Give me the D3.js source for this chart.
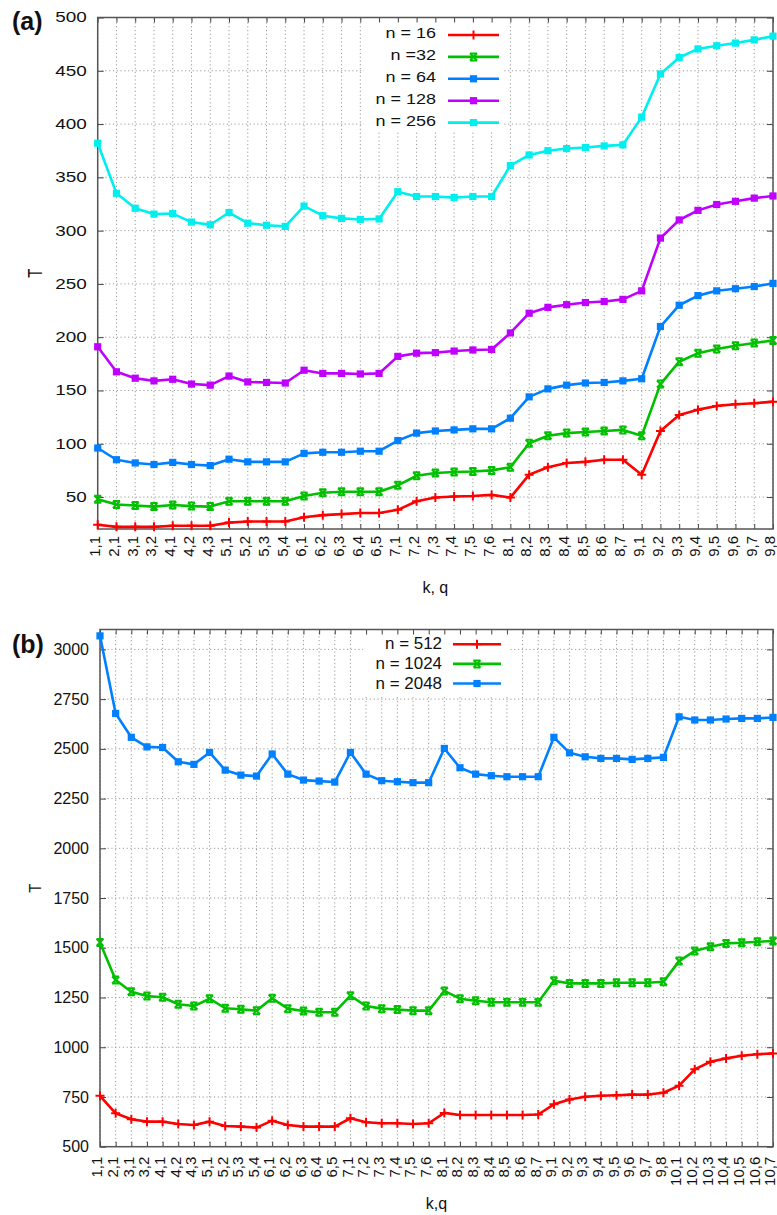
<!DOCTYPE html>
<html><head><meta charset="utf-8">
<script src="https://cdn.jsdelivr.net/npm/d3@7"></script>
<style>
html,body{margin:0;padding:0;background:#fff;}
svg{display:block;font-family:"Liberation Sans",Arial,sans-serif;}
</style></head>
<body><svg id="chart" width="777" height="1215"></svg>
<script>
// ---------- data ----------
const catsA = ["1,1","2,1","3,1","3,2","4,1","4,2","4,3","5,1","5,2","5,3","5,4","6,1","6,2","6,3","6,4","6,5","7,1","7,2","7,3","7,4","7,5","7,6","8,1","8,2","8,3","8,4","8,5","8,6","8,7","9,1","9,2","9,3","9,4","9,5","9,6","9,7","9,8"];
const catsB = ["1,1","2,1","3,1","3,2","4,1","4,2","4,3","5,1","5,2","5,3","5,4","6,1","6,2","6,3","6,4","6,5","7,1","7,2","7,3","7,4","7,5","7,6","8,1","8,2","8,3","8,4","8,5","8,6","8,7","9,1","9,2","9,3","9,4","9,5","9,6","9,7","9,8","10,1","10,2","10,3","10,4","10,5","10,6","10,7"];

const n16  = [24,22,22,22,23,23,23,26,27,27,27,31,33,34,35,35,38,46,49.5,50.5,51,52,49.5,71,78,82,83,85,85,71,112,127,132,135.5,137,138,139.5];
const n32  = [48,43,42,41,42.5,41.5,41,46,46,46,46,51,54,55,55,55,61,70,72.5,73.5,74,75,78,100.5,107.5,110,111,112,113,107.5,156,177,185,189,192,194.5,197];
const n64  = [96,85,82,80.5,82.5,80.5,79.5,85.5,83,83,83,91,92,92,93,93,103,110,112,113,114,114,124,144,151.5,155,157,157.5,159,161,210,230,239,243.5,245.5,247.5,250.5];
const n128 = [191,167.5,161.5,159,160.5,156,155,163.5,158,157.5,157,169,166,166,165.5,166,182,185,185.5,187,188,188.5,204,222.5,228,230.5,232.5,233.5,235.5,243.5,293,310,319,324.5,327.5,330.5,332.5];
const n256 = [382,335,321,315.5,316,308,305.5,317,307,305,304,323,314,311.5,310.5,311,336.5,332,332,331,332,332,361,371,375,377,378,379.5,380.5,406.5,447,462.5,470.5,473.5,476,479,482.5];

const n512  = [756,668,638,626,626,614,609,626,604,601,596,631,609,601,601,601,643,623,618,618,614,618,670,659,659,659,659,659,662,713,737,751,756,759,762,762,771,807,889,927,944,957,965,969];
const n1024 = [1527,1338,1279,1257,1251,1216,1207,1244,1196,1191,1184,1246,1194,1182,1176,1176,1259,1207,1194,1190,1184,1184,1283,1244,1234,1226,1226,1226,1226,1334,1321,1321,1321,1324,1324,1324,1329,1433,1484,1505,1522,1525,1530,1534];
const n2048 = [3068,2678,2558,2510,2507,2435,2422,2482,2393,2368,2363,2474,2373,2343,2338,2333,2482,2373,2340,2335,2330,2330,2502,2405,2373,2365,2360,2360,2360,2558,2480,2460,2452,2452,2447,2452,2457,2661,2645,2645,2650,2653,2653,2658];

const labelsA = ["n = 16","n =32","n = 64","n = 128","n = 256"];
const labelsB = ["n = 512","n = 1024","n = 2048"];
const ticksA = [50,100,150,200,250,300,350,400,450,500];
const ticksB = [500,750,1000,1250,1500,1750,2000,2250,2500,2750,3000];

const colors = ["#ff0000","#00c000","#0080ff","#c000ff","#00eeee"];
const markers = ["plus","cross","square","square","square"];

const svg = d3.select("#chart");

function marker(g, type, x, y, color){
  if(type==="plus"){
    g.append("path").attr("d",`M${x-4.5},${y}H${x+4.5}M${x},${y-4.5}V${y+4.5}`)
      .attr("stroke",color).attr("stroke-width",2).attr("fill","none");
  } else if(type==="cross"){
    g.append("path").attr("d",`M${x-3.5},${y-3.5}L${x+3.5},${y+3.5}M${x-3.5},${y+3.5}L${x+3.5},${y-3.5}M${x-3.5},${y-3.5}H${x+3.5}M${x-3.5},${y+3.5}H${x+3.5}`)
      .attr("stroke",color).attr("stroke-width",2).attr("fill","none");
  } else {
    g.append("rect").attr("x",x-3.6).attr("y",y-3.6).attr("width",7.2).attr("height",7.2).attr("fill",color);
  }
}

function panel(cfg){
  const g = svg.append("g");
  const x = d3.scalePoint().domain(cfg.cats).range([cfg.left, cfg.right]);
  const y = d3.scaleLinear().domain(cfg.yDomain).range([cfg.bottom, cfg.top]);

  // grid
  const grid = g.append("g").attr("stroke","#9a9a9a").attr("stroke-width",1).attr("stroke-dasharray","1.2,2.6");
  cfg.cats.forEach(c=>{
    grid.append("line").attr("x1",x(c)).attr("x2",x(c)).attr("y1",cfg.bottom).attr("y2",cfg.top);
  });
  cfg.yTicks.forEach(t=>{
    if(t>cfg.yDomain[0] && t<cfg.yDomain[1])
      grid.append("line").attr("x1",cfg.left).attr("x2",cfg.right).attr("y1",y(t)).attr("y2",y(t));
  });

  // legend opaque box
  g.append("rect").attr("x",cfg.key.x0).attr("y",cfg.top+1).attr("width",cfg.key.x1-cfg.key.x0).attr("height",cfg.key.y1-cfg.top-1).attr("fill","#fff");

  // axes with inward ticks (all four sides)
  const yAx = d3.axisLeft(y).tickValues(cfg.yTicks).tickSize(-6).tickFormat(d3.format("d"));
  const yg = g.append("g").attr("transform",`translate(${cfg.left},0)`).call(yAx);
  yg.select(".domain").remove();
  yg.selectAll(".tick line").attr("stroke","#444");
  yg.selectAll(".tick text").attr("x",0)
    .attr("transform",`translate(-11,0) scale(${cfg.tickScale},1)`)
    .attr("font-size",cfg.tickFont).attr("fill","#111").attr("font-family","Liberation Sans, Arial, sans-serif");
  const yr = g.append("g").attr("transform",`translate(${cfg.right},0)`).call(d3.axisRight(y).tickValues(cfg.yTicks).tickSize(-6).tickFormat(""));
  yr.select(".domain").remove(); yr.selectAll(".tick line").attr("stroke","#444");

  const xAx = d3.axisBottom(x).tickSize(-5).tickSizeOuter(0);
  const xg = g.append("g").attr("transform",`translate(0,${cfg.bottom})`).call(xAx);
  xg.select(".domain").remove();
  xg.selectAll(".tick line").attr("stroke","#444");
  xg.selectAll(".tick text")
    .attr("transform","rotate(-90)").attr("text-anchor","end")
    .attr("x",-cfg.xLabGap).attr("y",0).attr("dy","0.12em")
    .attr("font-size",15).attr("fill","#111").attr("font-family","Liberation Sans, Arial, sans-serif");
  const xt = g.append("g").attr("transform",`translate(0,${cfg.top})`).call(d3.axisTop(x).tickSize(-5).tickFormat(""));
  xt.select(".domain").remove(); xt.selectAll(".tick line").attr("stroke","#444");

  // frame
  g.append("rect").attr("x",cfg.left).attr("y",cfg.top).attr("width",cfg.right-cfg.left).attr("height",cfg.bottom-cfg.top)
    .attr("fill","none").attr("stroke","#555").attr("stroke-width",1.5);

  // series
  const line = d3.line().x((d,i)=>x(cfg.cats[i])).y(d=>y(d));
  cfg.series.forEach((s,k)=>{
    const sg = g.append("g");
    sg.append("path").datum(s).attr("d",line).attr("fill","none").attr("stroke",colors[k]).attr("stroke-width",2.6).attr("stroke-linejoin","round");
    s.forEach((v,i)=>marker(sg, markers[k], x(cfg.cats[i]), y(v), colors[k]));
  });

  // legend
  cfg.labels.forEach((lab,k)=>{
    const ly = cfg.key.row0 + k*cfg.key.dy;
    g.append("text").attr("x",0).attr("y",0)
      .attr("transform",`translate(${cfg.key.tx},${ly+cfg.key.base}) scale(${cfg.key.scale},1)`)
      .attr("text-anchor","end").attr("font-size",cfg.key.font).attr("fill","#111").text(lab);
    g.append("line").attr("x1",cfg.key.lx0).attr("x2",cfg.key.lx1).attr("y1",ly).attr("y2",ly)
      .attr("stroke",colors[k]).attr("stroke-width",2.6);
    marker(g, markers[k], (cfg.key.lx0+cfg.key.lx1)/2, ly, colors[k]);
  });

  // titles
  g.append("text").attr("transform",`translate(${cfg.panelX},${cfg.panelY})`)
    .attr("font-size",cfg.panelFont).attr("font-weight","bold").attr("fill","#111").text(cfg.panel);
  g.append("text").attr("transform",`translate(${cfg.tX},${(cfg.top+cfg.bottom)/2}) scale(${cfg.tScale},1) rotate(-90)`)
    .attr("text-anchor","middle").attr("dy","0.35em").attr("font-size",15).attr("fill","#111").text("T");
  g.append("text").attr("x",(cfg.left+cfg.right)/2).attr("y",cfg.xTitleY)
    .attr("text-anchor","middle").attr("font-size",16).attr("fill","#111").text(cfg.xTitle);
}

panel({
  cats: catsA, series:[n16,n32,n64,n128,n256], labels: labelsA,
  left:97.7, right:773, top:17.5, bottom:529, yDomain:[20,500], yTicks:ticksA,
  tickFont:14, tickScale:1.35, xLabGap:7,
  key:{x0:364, x1:504, y1:131, row0:35, dy:21.9, base:3, tx:436, lx0:448, lx1:499, font:15, scale:1.2},
  panel:"(a)", panelX:12, panelY:29.5, panelFont:25, tX:35, tScale:1.3, xTitle:"k, q", xTitleY:593
});

panel({
  cats: catsB, series:[n512,n1024,n2048], labels: labelsB,
  left:100, right:773, top:629.5, bottom:1146.7, yDomain:[500,3100], yTicks:ticksB,
  tickFont:16, tickScale:1.0, xLabGap:10,
  key:{x0:363, x1:508, y1:696, row0:644.3, dy:19.6, base:5, tx:442, lx0:453, lx1:501, font:16, scale:1.06},
  panel:"(b)", panelX:12, panelY:653, panelFont:25, tX:35, tScale:1.1, xTitle:"k,q", xTitleY:1209
});
</script>
</body></html>
